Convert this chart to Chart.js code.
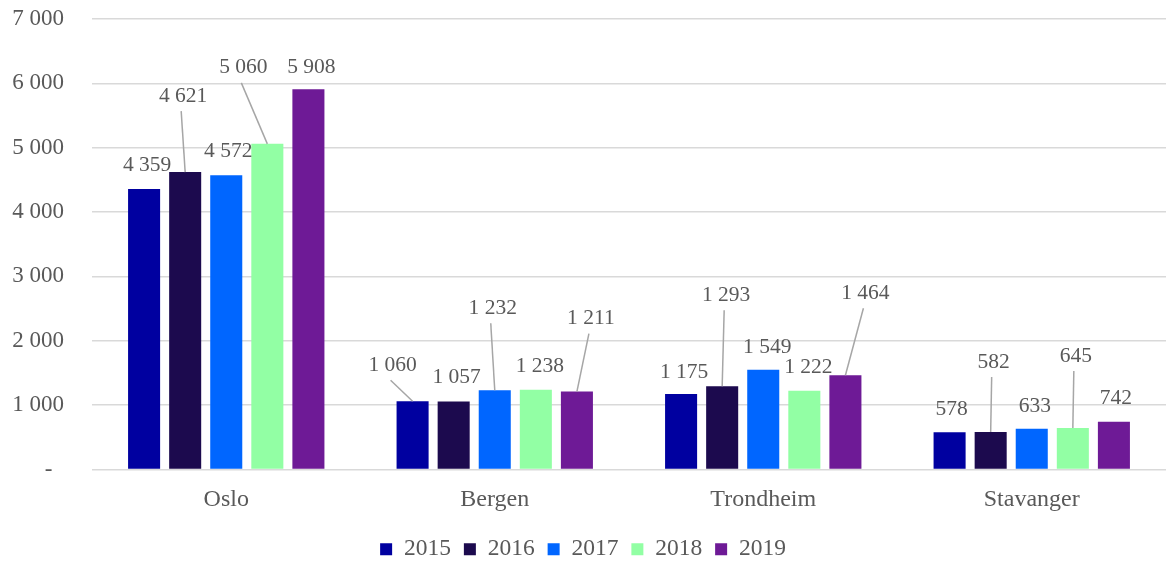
<!DOCTYPE html>
<html>
<head>
<meta charset="utf-8">
<script src="https://cdn.jsdelivr.net/npm/chart.js@4/dist/chart.umd.min.js"></script>
<style>
  html, body { margin: 0; padding: 0; background: #fff; }
  #wrap { width: 1166px; height: 563px; }
</style>
</head>
<body>
<div id="wrap"><canvas id="chart"></canvas></div>
<script>
const cities = ["Oslo", "Bergen", "Trondheim", "Stavanger"];
const years = ["2015", "2016", "2017", "2018", "2019"];
const values2015 = [4359, 1060, 1175, 578];
const values2016 = [4621, 1057, 1293, 582];
const values2017 = [4572, 1232, 1549, 633];
const values2018 = [5060, 1238, 1222, 645];
const values2019 = [5908, 1211, 1464, 742];
const yTicks = [0, 1000, 2000, 3000, 4000, 5000, 6000, 7000];

const colors = ["#0000a0", "#1c0a4e", "#0066ff", "#92ffa4", "#6e1a96"];

// where the value labels sit, in px from the top centre of each bar
const labelShift = [
  [[3, -24], [-20, -36], [3, -22], [2, -23]],
  [[-2, -76], [3, -24], [4, -91], [3, -70]],
  [[2, -24], [-2, -82], [4, -22], [3, -22]],
  [[-24, -76], [4, -23], [4, -23], [3, -72]],
  [[3, -22], [14, -73], [20, -82], [2, -23]],
];

// zero is shown as a dash, like the accounting format
const fmt = (v) =>
  v === 0 ? "-  " : String(v).replace(/\B(?=(\d{3})+(?!\d))/g, " ");

const textColor = "#595959";
const fontFamily = "'Liberation Serif', 'Times New Roman', serif";

const valueLabels = {
  id: "valueLabels",
  afterDatasetsDraw(chart) {
    const ctx = chart.ctx;
    ctx.save();
    ctx.font = "21.5px " + fontFamily;
    ctx.textAlign = "center";
    ctx.textBaseline = "middle";
    chart.data.datasets.forEach((ds, i) => {
      const meta = chart.getDatasetMeta(i);
      meta.data.forEach((bar, j) => {
        const [dx, dy] = labelShift[i][j];
        const lx = bar.x + dx;
        const ly = bar.y + dy;
        if (dy < -30) {
          ctx.strokeStyle = "#a6a6a6";
          ctx.lineWidth = 1.5;
          ctx.beginPath();
          ctx.moveTo(lx - 2, ly + 15);
          ctx.lineTo(bar.x, bar.y);
          ctx.stroke();
        }
        ctx.fillStyle = textColor;
        ctx.fillText(fmt(ds.data[j]), lx, ly);
      });
    });
    ctx.restore();
  },
};

const allValues = [values2015, values2016, values2017, values2018, values2019];

new Chart(document.getElementById("chart"), {
  type: "bar",
  data: {
    labels: cities,
    datasets: years.map((y, i) => ({
      label: y,
      data: allValues[i],
      backgroundColor: colors[i],
      categoryPercentage: 0.765,
      barPercentage: 0.78,
    })),
  },
  options: {
    responsive: true,
    maintainAspectRatio: false,
    animation: false,
    layout: { padding: { top: 19, right: 0, bottom: -8, left: 0 } },
    scales: {
      x: {
        grid: { display: false },
        border: { display: false },
        ticks: {
          color: textColor,
          font: { family: fontFamily, size: 24 },
          padding: 8,
        },
        afterFit(scale) {
          scale.height = 55;
        },
      },
      y: {
        min: 0,
        max: 7000,
        afterBuildTicks(scale) {
          scale.ticks = yTicks.map((v) => ({ value: v }));
        },
        grid: { color: "#d9d9d9", lineWidth: 1.5, drawTicks: false },
        border: { display: false },
        ticks: {
          color: textColor,
          font: { family: fontFamily, size: 23 },
          padding: 28,
          callback: (v) => fmt(v),
        },
        afterFit(scale) {
          scale.width = 92;
          scale.paddingTop = 0;
          scale.paddingBottom = 0;
        },
      },
    },
    plugins: {
      legend: {
        position: "bottom",
        labels: {
          color: textColor,
          font: { family: fontFamily, size: 23.5 },
          boxWidth: 12,
          boxHeight: 12,
          padding: 13,
        },
      },
      tooltip: { enabled: false },
    },
  },
  plugins: [valueLabels],
});
</script>
</body>
</html>
